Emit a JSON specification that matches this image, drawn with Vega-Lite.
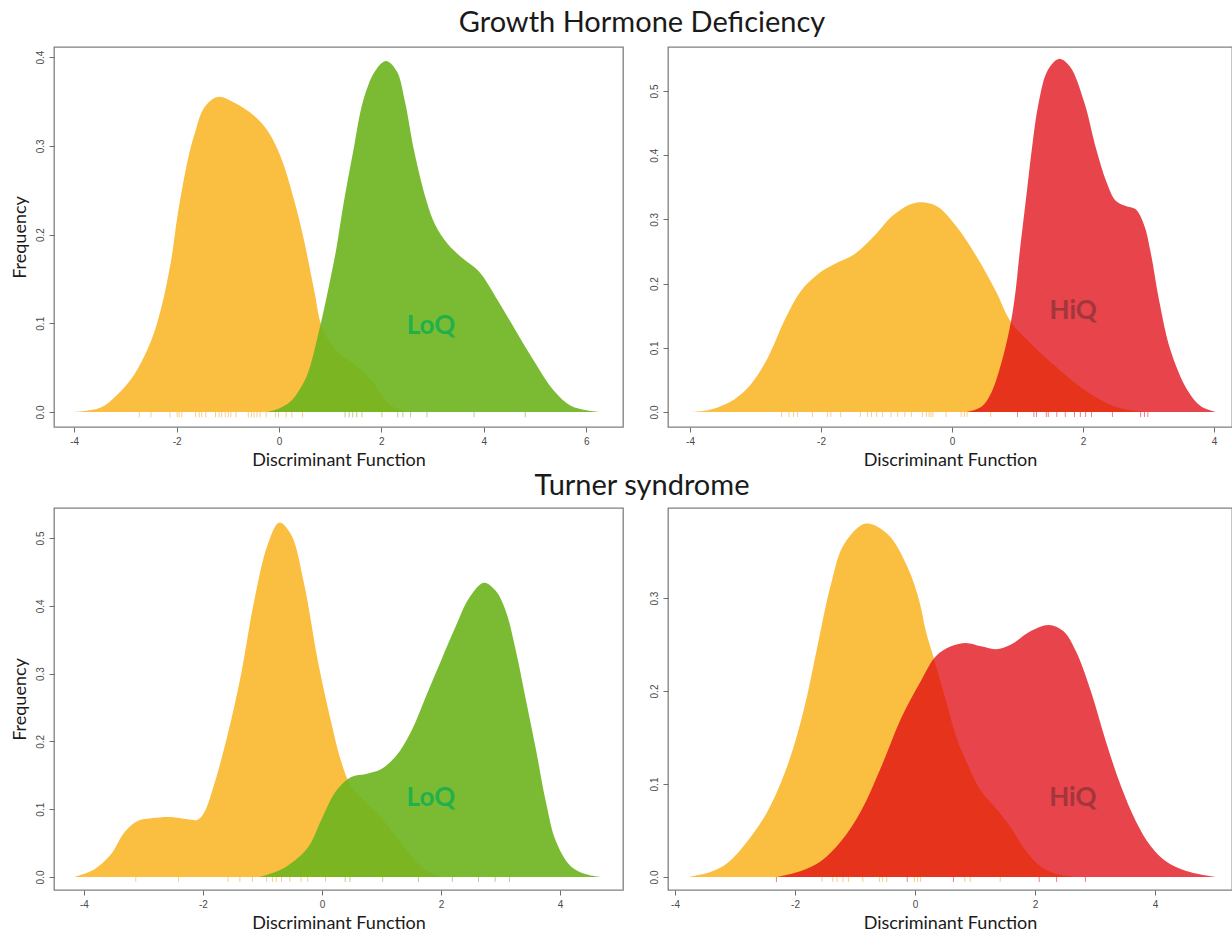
{
  "$schema": "https://vega.github.io/schema/vega-lite/v6.json",
  "background": "white",
  "padding": {"left": 10, "top": 8, "right": 0, "bottom": 0},
  "autosize": {"type": "pad"},
  "columns": 2,
  "bounds": "flush",
  "spacing": {"row": 81, "column": 45},
  "datasets": {
    "gh_loq": [
      {"group": "Reference", "x": -4.0, "density": 0},
      {"group": "Reference", "x": -3.48, "density": 0.005},
      {"group": "Reference", "x": -3.15, "density": 0.02},
      {"group": "Reference", "x": -2.83, "density": 0.042},
      {"group": "Reference", "x": -2.5, "density": 0.08},
      {"group": "Reference", "x": -2.3, "density": 0.1175},
      {"group": "Reference", "x": -2.11, "density": 0.17},
      {"group": "Reference", "x": -1.98, "density": 0.222},
      {"group": "Reference", "x": -1.78, "density": 0.2845},
      {"group": "Reference", "x": -1.65, "density": 0.313},
      {"group": "Reference", "x": -1.46, "density": 0.343},
      {"group": "Reference", "x": -1.2, "density": 0.355},
      {"group": "Reference", "x": -0.87, "density": 0.3485},
      {"group": "Reference", "x": -0.48, "density": 0.3335},
      {"group": "Reference", "x": -0.22, "density": 0.3166},
      {"group": "Reference", "x": 0.04, "density": 0.2865},
      {"group": "Reference", "x": 0.3, "density": 0.2377},
      {"group": "Reference", "x": 0.49, "density": 0.193},
      {"group": "Reference", "x": 0.69, "density": 0.136},
      {"group": "Reference", "x": 0.82, "density": 0.099},
      {"group": "Reference", "x": 1.0, "density": 0.078},
      {"group": "Reference", "x": 1.2, "density": 0.065},
      {"group": "Reference", "x": 1.4, "density": 0.057},
      {"group": "Reference", "x": 1.6, "density": 0.048},
      {"group": "Reference", "x": 1.8, "density": 0.036},
      {"group": "Reference", "x": 2.0, "density": 0.02},
      {"group": "Reference", "x": 2.2, "density": 0.007},
      {"group": "Reference", "x": 2.5, "density": 0.001},
      {"group": "Reference", "x": 2.8, "density": 0},
      {"group": "LoQ", "x": -0.25, "density": 0},
      {"group": "LoQ", "x": 0.0, "density": 0.004},
      {"group": "LoQ", "x": 0.23, "density": 0.012},
      {"group": "LoQ", "x": 0.4, "density": 0.025},
      {"group": "LoQ", "x": 0.56, "density": 0.043},
      {"group": "LoQ", "x": 0.78, "density": 0.091},
      {"group": "LoQ", "x": 0.95, "density": 0.135},
      {"group": "LoQ", "x": 1.11, "density": 0.181},
      {"group": "LoQ", "x": 1.27, "density": 0.238},
      {"group": "LoQ", "x": 1.45, "density": 0.294},
      {"group": "LoQ", "x": 1.64, "density": 0.35},
      {"group": "LoQ", "x": 1.875, "density": 0.384},
      {"group": "LoQ", "x": 2.09, "density": 0.3955},
      {"group": "LoQ", "x": 2.3, "density": 0.384},
      {"group": "LoQ", "x": 2.46, "density": 0.35},
      {"group": "LoQ", "x": 2.64, "density": 0.294},
      {"group": "LoQ", "x": 2.87, "density": 0.24},
      {"group": "LoQ", "x": 3.05, "density": 0.211},
      {"group": "LoQ", "x": 3.3, "density": 0.189},
      {"group": "LoQ", "x": 3.61, "density": 0.172},
      {"group": "LoQ", "x": 3.91, "density": 0.158},
      {"group": "LoQ", "x": 4.28, "density": 0.125},
      {"group": "LoQ", "x": 4.63, "density": 0.091},
      {"group": "LoQ", "x": 4.98, "density": 0.0575},
      {"group": "LoQ", "x": 5.37, "density": 0.024},
      {"group": "LoQ", "x": 5.7, "density": 0.007},
      {"group": "LoQ", "x": 6.0, "density": 0.002},
      {"group": "LoQ", "x": 6.29, "density": 0}
    ],
    "gh_loq_rug": [
      {"group": "Reference", "x": -2.73}, {"group": "Reference", "x": -2.5}, {"group": "Reference", "x": -2.13},
      {"group": "Reference", "x": -1.99}, {"group": "Reference", "x": -1.95}, {"group": "Reference", "x": -1.9},
      {"group": "Reference", "x": -1.63}, {"group": "Reference", "x": -1.56}, {"group": "Reference", "x": -1.51},
      {"group": "Reference", "x": -1.43}, {"group": "Reference", "x": -1.24}, {"group": "Reference", "x": -1.17},
      {"group": "Reference", "x": -1.12}, {"group": "Reference", "x": -1.05}, {"group": "Reference", "x": -0.99},
      {"group": "Reference", "x": -0.94}, {"group": "Reference", "x": -0.84}, {"group": "Reference", "x": -0.6},
      {"group": "Reference", "x": -0.54}, {"group": "Reference", "x": -0.49}, {"group": "Reference", "x": -0.43},
      {"group": "Reference", "x": -0.37}, {"group": "Reference", "x": -0.25}, {"group": "Reference", "x": -0.07},
      {"group": "Reference", "x": -0.01}, {"group": "Reference", "x": 0.14}, {"group": "Reference", "x": 0.25},
      {"group": "Reference", "x": 0.46},
      {"group": "LoQ", "x": 1.29}, {"group": "LoQ", "x": 1.37}, {"group": "LoQ", "x": 1.44}, {"group": "LoQ", "x": 1.52},
      {"group": "LoQ", "x": 1.62}, {"group": "LoQ", "x": 2.01}, {"group": "LoQ", "x": 2.32}, {"group": "LoQ", "x": 2.42},
      {"group": "LoQ", "x": 2.57}, {"group": "LoQ", "x": 2.89}, {"group": "LoQ", "x": 3.81}, {"group": "LoQ", "x": 4.81}
    ],
    "gh_hiq": [
      {"group": "Reference", "x": -4.0, "density": 0},
      {"group": "Reference", "x": -3.68, "density": 0.004},
      {"group": "Reference", "x": -3.32, "density": 0.02},
      {"group": "Reference", "x": -3.07, "density": 0.043},
      {"group": "Reference", "x": -2.81, "density": 0.085},
      {"group": "Reference", "x": -2.56, "density": 0.142},
      {"group": "Reference", "x": -2.31, "density": 0.188},
      {"group": "Reference", "x": -2.05, "density": 0.2145},
      {"group": "Reference", "x": -1.8, "density": 0.23},
      {"group": "Reference", "x": -1.49, "density": 0.2455},
      {"group": "Reference", "x": -1.19, "density": 0.274},
      {"group": "Reference", "x": -0.88, "density": 0.308},
      {"group": "Reference", "x": -0.55, "density": 0.326},
      {"group": "Reference", "x": -0.24, "density": 0.321},
      {"group": "Reference", "x": 0.06, "density": 0.29},
      {"group": "Reference", "x": 0.37, "density": 0.243},
      {"group": "Reference", "x": 0.67, "density": 0.188},
      {"group": "Reference", "x": 0.9, "density": 0.14},
      {"group": "Reference", "x": 1.21, "density": 0.106},
      {"group": "Reference", "x": 1.56, "density": 0.073},
      {"group": "Reference", "x": 1.97, "density": 0.038},
      {"group": "Reference", "x": 2.38, "density": 0.013},
      {"group": "Reference", "x": 2.7, "density": 0.003},
      {"group": "Reference", "x": 3.0, "density": 0},
      {"group": "HiQ", "x": 0.23, "density": 0},
      {"group": "HiQ", "x": 0.45, "density": 0.008},
      {"group": "HiQ", "x": 0.6, "density": 0.03},
      {"group": "HiQ", "x": 0.75, "density": 0.075},
      {"group": "HiQ", "x": 0.88, "density": 0.13},
      {"group": "HiQ", "x": 0.96, "density": 0.18},
      {"group": "HiQ", "x": 1.04, "density": 0.255},
      {"group": "HiQ", "x": 1.13, "density": 0.332},
      {"group": "HiQ", "x": 1.22, "density": 0.41},
      {"group": "HiQ", "x": 1.32, "density": 0.48},
      {"group": "HiQ", "x": 1.46, "density": 0.532},
      {"group": "HiQ", "x": 1.63, "density": 0.55},
      {"group": "HiQ", "x": 1.8, "density": 0.538},
      {"group": "HiQ", "x": 2.02, "density": 0.482},
      {"group": "HiQ", "x": 2.2, "density": 0.41},
      {"group": "HiQ", "x": 2.36, "density": 0.358},
      {"group": "HiQ", "x": 2.5, "density": 0.329},
      {"group": "HiQ", "x": 2.65, "density": 0.321},
      {"group": "HiQ", "x": 2.8, "density": 0.316},
      {"group": "HiQ", "x": 2.93, "density": 0.292},
      {"group": "HiQ", "x": 3.04, "density": 0.245},
      {"group": "HiQ", "x": 3.16, "density": 0.175},
      {"group": "HiQ", "x": 3.34, "density": 0.095},
      {"group": "HiQ", "x": 3.6, "density": 0.033},
      {"group": "HiQ", "x": 3.8, "density": 0.009},
      {"group": "HiQ", "x": 4.03, "density": 0}
    ],
    "gh_hiq_rug": [
      {"group": "Reference", "x": -2.6}, {"group": "Reference", "x": -2.49}, {"group": "Reference", "x": -2.42},
      {"group": "Reference", "x": -2.36}, {"group": "Reference", "x": -2.13}, {"group": "Reference", "x": -1.9},
      {"group": "Reference", "x": -1.85}, {"group": "Reference", "x": -1.7}, {"group": "Reference", "x": -1.4},
      {"group": "Reference", "x": -1.29}, {"group": "Reference", "x": -1.23}, {"group": "Reference", "x": -1.15},
      {"group": "Reference", "x": -1.06}, {"group": "Reference", "x": -0.93}, {"group": "Reference", "x": -0.83},
      {"group": "Reference", "x": -0.72}, {"group": "Reference", "x": -0.62}, {"group": "Reference", "x": -0.45},
      {"group": "Reference", "x": -0.39}, {"group": "Reference", "x": -0.35}, {"group": "Reference", "x": -0.32},
      {"group": "Reference", "x": -0.29}, {"group": "Reference", "x": -0.09}, {"group": "Reference", "x": 0.14},
      {"group": "Reference", "x": 0.19}, {"group": "Reference", "x": 0.23}, {"group": "Reference", "x": 0.59},
      {"group": "HiQ", "x": 1.0}, {"group": "HiQ", "x": 1.25}, {"group": "HiQ", "x": 1.29}, {"group": "HiQ", "x": 1.44},
      {"group": "HiQ", "x": 1.47}, {"group": "HiQ", "x": 1.6}, {"group": "HiQ", "x": 1.73}, {"group": "HiQ", "x": 1.87},
      {"group": "HiQ", "x": 1.96}, {"group": "HiQ", "x": 2.04}, {"group": "HiQ", "x": 2.13}, {"group": "HiQ", "x": 2.45},
      {"group": "HiQ", "x": 2.88}, {"group": "HiQ", "x": 2.94}, {"group": "HiQ", "x": 2.99}
    ],
    "ts_loq": [
      {"group": "Reference", "x": -4.16, "density": 0},
      {"group": "Reference", "x": -3.83, "density": 0.011},
      {"group": "Reference", "x": -3.55, "density": 0.033},
      {"group": "Reference", "x": -3.32, "density": 0.066},
      {"group": "Reference", "x": -3.1, "density": 0.0826},
      {"group": "Reference", "x": -2.87, "density": 0.0866},
      {"group": "Reference", "x": -2.54, "density": 0.0885},
      {"group": "Reference", "x": -2.26, "density": 0.085},
      {"group": "Reference", "x": -2.09, "density": 0.0845},
      {"group": "Reference", "x": -1.98, "density": 0.095},
      {"group": "Reference", "x": -1.81, "density": 0.137},
      {"group": "Reference", "x": -1.585, "density": 0.21},
      {"group": "Reference", "x": -1.36, "density": 0.299},
      {"group": "Reference", "x": -1.14, "density": 0.407},
      {"group": "Reference", "x": -0.91, "density": 0.491},
      {"group": "Reference", "x": -0.72, "density": 0.5226},
      {"group": "Reference", "x": -0.52, "density": 0.505},
      {"group": "Reference", "x": -0.3, "density": 0.432},
      {"group": "Reference", "x": -0.07, "density": 0.319},
      {"group": "Reference", "x": 0.15, "density": 0.23},
      {"group": "Reference", "x": 0.32, "density": 0.171},
      {"group": "Reference", "x": 0.49, "density": 0.134},
      {"group": "Reference", "x": 0.74, "density": 0.11},
      {"group": "Reference", "x": 0.99, "density": 0.088},
      {"group": "Reference", "x": 1.24, "density": 0.06},
      {"group": "Reference", "x": 1.5, "density": 0.031},
      {"group": "Reference", "x": 1.75, "density": 0.01},
      {"group": "Reference", "x": 2.0, "density": 0},
      {"group": "LoQ", "x": -1.05, "density": 0},
      {"group": "LoQ", "x": -0.63, "density": 0.0137},
      {"group": "LoQ", "x": -0.24, "density": 0.043},
      {"group": "LoQ", "x": -0.02, "density": 0.0826},
      {"group": "LoQ", "x": 0.24, "density": 0.127},
      {"group": "LoQ", "x": 0.49, "density": 0.1475},
      {"group": "LoQ", "x": 0.74, "density": 0.152},
      {"group": "LoQ", "x": 0.99, "density": 0.159},
      {"group": "LoQ", "x": 1.24, "density": 0.178},
      {"group": "LoQ", "x": 1.5, "density": 0.215},
      {"group": "LoQ", "x": 1.75, "density": 0.267},
      {"group": "LoQ", "x": 2.0, "density": 0.319},
      {"group": "LoQ", "x": 2.25, "density": 0.37},
      {"group": "LoQ", "x": 2.47, "density": 0.411},
      {"group": "LoQ", "x": 2.72, "density": 0.434},
      {"group": "LoQ", "x": 2.92, "density": 0.422},
      {"group": "LoQ", "x": 3.09, "density": 0.392},
      {"group": "LoQ", "x": 3.26, "density": 0.333},
      {"group": "LoQ", "x": 3.43, "density": 0.26},
      {"group": "LoQ", "x": 3.6, "density": 0.186},
      {"group": "LoQ", "x": 3.76, "density": 0.112},
      {"group": "LoQ", "x": 3.93, "density": 0.053},
      {"group": "LoQ", "x": 4.18, "density": 0.016},
      {"group": "LoQ", "x": 4.44, "density": 0.004},
      {"group": "LoQ", "x": 4.69, "density": 0}
    ],
    "ts_loq_rug": [
      {"group": "Reference", "x": -3.13}, {"group": "Reference", "x": -2.41}, {"group": "Reference", "x": -1.58},
      {"group": "Reference", "x": -1.38}, {"group": "Reference", "x": -1.17}, {"group": "Reference", "x": -0.93},
      {"group": "Reference", "x": -0.83}, {"group": "Reference", "x": -0.77}, {"group": "Reference", "x": -0.68},
      {"group": "Reference", "x": -0.54}, {"group": "Reference", "x": -0.35}, {"group": "Reference", "x": -0.24},
      {"group": "Reference", "x": 0.06},
      {"group": "LoQ", "x": 0.39}, {"group": "LoQ", "x": 0.47}, {"group": "LoQ", "x": 1.02}, {"group": "LoQ", "x": 1.62},
      {"group": "LoQ", "x": 2.19}, {"group": "LoQ", "x": 2.63}, {"group": "LoQ", "x": 2.91}, {"group": "LoQ", "x": 3.15}
    ],
    "ts_hiq": [
      {"group": "Reference", "x": -3.78, "density": 0},
      {"group": "Reference", "x": -3.4, "density": 0.0057},
      {"group": "Reference", "x": -3.12, "density": 0.0154},
      {"group": "Reference", "x": -2.79, "density": 0.0387},
      {"group": "Reference", "x": -2.455, "density": 0.071},
      {"group": "Reference", "x": -2.12, "density": 0.121},
      {"group": "Reference", "x": -1.845, "density": 0.182},
      {"group": "Reference", "x": -1.62, "density": 0.25},
      {"group": "Reference", "x": -1.4, "density": 0.315},
      {"group": "Reference", "x": -1.18, "density": 0.358},
      {"group": "Reference", "x": -0.82, "density": 0.38},
      {"group": "Reference", "x": -0.455, "density": 0.3685},
      {"group": "Reference", "x": -0.12, "density": 0.3326},
      {"group": "Reference", "x": 0.07, "density": 0.297},
      {"group": "Reference", "x": 0.18, "density": 0.2645},
      {"group": "Reference", "x": 0.3, "density": 0.238},
      {"group": "Reference", "x": 0.52, "density": 0.189},
      {"group": "Reference", "x": 0.68, "density": 0.152},
      {"group": "Reference", "x": 0.85, "density": 0.125},
      {"group": "Reference", "x": 1.1, "density": 0.0925},
      {"group": "Reference", "x": 1.35, "density": 0.074},
      {"group": "Reference", "x": 1.6, "density": 0.053},
      {"group": "Reference", "x": 1.85, "density": 0.028},
      {"group": "Reference", "x": 2.1, "density": 0.011},
      {"group": "Reference", "x": 2.43, "density": 0.002},
      {"group": "Reference", "x": 2.7, "density": 0},
      {"group": "HiQ", "x": -2.305, "density": 0},
      {"group": "HiQ", "x": -1.9, "density": 0.0065},
      {"group": "HiQ", "x": -1.57, "density": 0.017},
      {"group": "HiQ", "x": -1.23, "density": 0.0387},
      {"group": "HiQ", "x": -0.9, "density": 0.071},
      {"group": "HiQ", "x": -0.57, "density": 0.1175},
      {"group": "HiQ", "x": -0.23, "density": 0.171},
      {"group": "HiQ", "x": 0.1, "density": 0.211},
      {"group": "HiQ", "x": 0.35, "density": 0.2376},
      {"group": "HiQ", "x": 0.6, "density": 0.248},
      {"group": "HiQ", "x": 0.85, "density": 0.2516},
      {"group": "HiQ", "x": 1.1, "density": 0.248},
      {"group": "HiQ", "x": 1.35, "density": 0.245},
      {"group": "HiQ", "x": 1.6, "density": 0.25},
      {"group": "HiQ", "x": 1.93, "density": 0.2645},
      {"group": "HiQ", "x": 2.23, "density": 0.271},
      {"group": "HiQ", "x": 2.47, "density": 0.2645},
      {"group": "HiQ", "x": 2.68, "density": 0.243},
      {"group": "HiQ", "x": 2.93, "density": 0.2},
      {"group": "HiQ", "x": 3.18, "density": 0.146},
      {"group": "HiQ", "x": 3.43, "density": 0.098},
      {"group": "HiQ", "x": 3.68, "density": 0.06},
      {"group": "HiQ", "x": 3.93, "density": 0.033},
      {"group": "HiQ", "x": 4.18, "density": 0.017},
      {"group": "HiQ", "x": 4.52, "density": 0.0065},
      {"group": "HiQ", "x": 5.02, "density": 0}
    ],
    "ts_hiq_rug": [
      {"group": "Reference", "x": -1.55}, {"group": "Reference", "x": -1.37}, {"group": "Reference", "x": -1.3},
      {"group": "Reference", "x": -1.2}, {"group": "Reference", "x": -1.11}, {"group": "Reference", "x": -0.87},
      {"group": "Reference", "x": -0.59}, {"group": "Reference", "x": -0.54}, {"group": "Reference", "x": -0.47},
      {"group": "Reference", "x": -0.01}, {"group": "Reference", "x": 0.04}, {"group": "Reference", "x": 0.09},
      {"group": "Reference", "x": 0.83}, {"group": "Reference", "x": 0.92}, {"group": "Reference", "x": 1.42},
      {"group": "HiQ", "x": -2.31}, {"group": "HiQ", "x": -0.13}, {"group": "HiQ", "x": 0.64},
      {"group": "HiQ", "x": 2.07}, {"group": "HiQ", "x": 2.36}, {"group": "HiQ", "x": 2.84}
    ],
    "labels": [
      {"panel": "gh_loq", "label": "LoQ", "x": 2.97, "y": 0.097},
      {"panel": "gh_hiq", "label": "HiQ", "x": 1.85, "y": 0.157},
      {"panel": "ts_loq", "label": "LoQ", "x": 1.83, "y": 0.1165},
      {"panel": "ts_hiq", "label": "HiQ", "x": 2.63, "y": 0.085}
    ]
  },
  "concat": [
    {
      "width": 569,
      "height": 380,
      "title": {"text": "Growth Hormone Deficiency", "anchor": "end", "align": "center", "dx": 19, "frame": "group", "fontSize": 29, "font": "Lato", "fontWeight": "normal", "color": "#1a1a1a", "offset": 9},
      "layer": [
        {
          "data": {"name": "gh_loq"},
          "transform": [{"filter": "datum.group === 'Reference'"}],
          "mark": {"type": "area", "color": "#FABE41", "interpolate": "catmull-rom"},
          "encoding": {
            "x": {"field": "x", "type": "quantitative", "scale": {"domain": [-4.395, 6.719], "nice": false, "zero": false},
                  "axis": {"values": [-4, -2, 0, 2, 4, 6], "labelExpr": "datum.value + ''", "title": "Discriminant Function"}},
            "y": {"field": "density", "type": "quantitative", "stack": null, "scale": {"domain": [-0.0169, 0.4113], "nice": false, "zero": false},
                  "axis": {"values": [0, 0.1, 0.2, 0.3, 0.4], "format": ".1f", "title": "Frequency"}}
          }
        },
        {
          "data": {"name": "gh_loq"},
          "transform": [{"filter": "datum.group === 'LoQ'"}],
          "mark": {"type": "area", "color": "#6DB41E", "opacity": 0.9, "interpolate": "catmull-rom"},
          "encoding": {
            "x": {"field": "x", "type": "quantitative"},
            "y": {"field": "density", "type": "quantitative", "stack": null}
          }
        },
        {
          "data": {"name": "gh_loq_rug"},
          "mark": {"type": "rule", "strokeWidth": 1, "opacity": 0.55},
          "encoding": {
            "x": {"field": "x", "type": "quantitative"},
            "y": {"datum": 0},
            "y2": {"datum": -0.006},
            "color": {"field": "group", "type": "nominal", "legend": null, "scale": {"domain": ["Reference", "LoQ", "HiQ"], "range": ["#F5A623", "#6DB320", "#E31A1C"]}}
          }
        },
        {
          "data": {"name": "labels"},
          "transform": [{"filter": "datum.panel === 'gh_loq'"}],
          "mark": {"type": "text", "font": "Lato", "fontWeight": "bold", "fontSize": 26, "color": "#22B04B", "align": "center", "baseline": "middle"},
          "encoding": {
            "x": {"field": "x", "type": "quantitative"},
            "y": {"field": "y", "type": "quantitative"},
            "text": {"field": "label"}
          }
        }
      ]
    },
    {
      "width": 564,
      "height": 380,
      "layer": [
        {
          "data": {"name": "gh_hiq"},
          "transform": [{"filter": "datum.group === 'Reference'"}],
          "mark": {"type": "area", "color": "#FABE41", "interpolate": "catmull-rom"},
          "encoding": {
            "x": {"field": "x", "type": "quantitative", "scale": {"domain": [-4.336, 4.275], "nice": false, "zero": false},
                  "axis": {"values": [-4, -2, 0, 2, 4], "labelExpr": "datum.value + ''", "title": "Discriminant Function"}},
            "y": {"field": "density", "type": "quantitative", "stack": null, "scale": {"domain": [-0.0234, 0.5685], "nice": false, "zero": false},
                  "axis": {"values": [0, 0.1, 0.2, 0.3, 0.4, 0.5], "format": ".1f", "title": null}}
          }
        },
        {
          "data": {"name": "gh_hiq"},
          "transform": [{"filter": "datum.group === 'HiQ'"}],
          "mark": {"type": "area", "color": "#DF0610", "opacity": 0.75, "interpolate": "catmull-rom"},
          "encoding": {
            "x": {"field": "x", "type": "quantitative"},
            "y": {"field": "density", "type": "quantitative", "stack": null}
          }
        },
        {
          "data": {"name": "gh_hiq_rug"},
          "mark": {"type": "rule", "strokeWidth": 1, "opacity": 0.55},
          "encoding": {
            "x": {"field": "x", "type": "quantitative"},
            "y": {"datum": 0},
            "y2": {"datum": -0.0078},
            "color": {"field": "group", "type": "nominal", "legend": null, "scale": {"domain": ["Reference", "LoQ", "HiQ"], "range": ["#F5A623", "#6DB320", "#E31A1C"]}}
          }
        },
        {
          "data": {"name": "labels"},
          "transform": [{"filter": "datum.panel === 'gh_hiq'"}],
          "mark": {"type": "text", "font": "Lato", "fontWeight": "bold", "fontSize": 26, "color": "#A3363B", "align": "center", "baseline": "middle"},
          "encoding": {
            "x": {"field": "x", "type": "quantitative"},
            "y": {"field": "y", "type": "quantitative"},
            "text": {"field": "label"}
          }
        }
      ]
    },
    {
      "width": 569,
      "height": 382,
      "title": {"text": "Turner syndrome", "anchor": "end", "align": "center", "dx": 19, "frame": "group", "fontSize": 29, "font": "Lato", "fontWeight": "normal", "color": "#1a1a1a", "offset": 7},
      "layer": [
        {
          "data": {"name": "ts_loq"},
          "transform": [{"filter": "datum.group === 'Reference'"}],
          "mark": {"type": "area", "color": "#FABE41", "interpolate": "catmull-rom"},
          "encoding": {
            "x": {"field": "x", "type": "quantitative", "scale": {"domain": [-4.504, 5.059], "nice": false, "zero": false},
                  "axis": {"values": [-4, -2, 0, 2, 4], "labelExpr": "datum.value + ''", "title": "Discriminant Function"}},
            "y": {"field": "density", "type": "quantitative", "stack": null, "scale": {"domain": [-0.0192, 0.5442], "nice": false, "zero": false},
                  "axis": {"values": [0, 0.1, 0.2, 0.3, 0.4, 0.5], "format": ".1f", "title": "Frequency"}}
          }
        },
        {
          "data": {"name": "ts_loq"},
          "transform": [{"filter": "datum.group === 'LoQ'"}],
          "mark": {"type": "area", "color": "#6DB41E", "opacity": 0.9, "interpolate": "catmull-rom"},
          "encoding": {
            "x": {"field": "x", "type": "quantitative"},
            "y": {"field": "density", "type": "quantitative", "stack": null}
          }
        },
        {
          "data": {"name": "ts_loq_rug"},
          "mark": {"type": "rule", "strokeWidth": 1, "opacity": 0.55},
          "encoding": {
            "x": {"field": "x", "type": "quantitative"},
            "y": {"datum": 0},
            "y2": {"datum": -0.0074},
            "color": {"field": "group", "type": "nominal", "legend": null, "scale": {"domain": ["Reference", "LoQ", "HiQ"], "range": ["#F5A623", "#6DB320", "#E31A1C"]}}
          }
        },
        {
          "data": {"name": "labels"},
          "transform": [{"filter": "datum.panel === 'ts_loq'"}],
          "mark": {"type": "text", "font": "Lato", "fontWeight": "bold", "fontSize": 26, "color": "#22B04B", "align": "center", "baseline": "middle"},
          "encoding": {
            "x": {"field": "x", "type": "quantitative"},
            "y": {"field": "y", "type": "quantitative"},
            "text": {"field": "label"}
          }
        }
      ]
    },
    {
      "width": 564,
      "height": 382,
      "layer": [
        {
          "data": {"name": "ts_hiq"},
          "transform": [{"filter": "datum.group === 'Reference'"}],
          "mark": {"type": "area", "color": "#FABE41", "interpolate": "catmull-rom"},
          "encoding": {
            "x": {"field": "x", "type": "quantitative", "scale": {"domain": [-4.117, 5.283], "nice": false, "zero": false},
                  "axis": {"values": [-4, -2, 0, 2, 4], "labelExpr": "datum.value + ''", "title": "Discriminant Function"}},
            "y": {"field": "density", "type": "quantitative", "stack": null, "scale": {"domain": [-0.014, 0.3968], "nice": false, "zero": false},
                  "axis": {"values": [0, 0.1, 0.2, 0.3], "format": ".1f", "title": null}}
          }
        },
        {
          "data": {"name": "ts_hiq"},
          "transform": [{"filter": "datum.group === 'HiQ'"}],
          "mark": {"type": "area", "color": "#DF0610", "opacity": 0.75, "interpolate": "catmull-rom"},
          "encoding": {
            "x": {"field": "x", "type": "quantitative"},
            "y": {"field": "density", "type": "quantitative", "stack": null}
          }
        },
        {
          "data": {"name": "ts_hiq_rug"},
          "mark": {"type": "rule", "strokeWidth": 1, "opacity": 0.55},
          "encoding": {
            "x": {"field": "x", "type": "quantitative"},
            "y": {"datum": 0},
            "y2": {"datum": -0.0054},
            "color": {"field": "group", "type": "nominal", "legend": null, "scale": {"domain": ["Reference", "LoQ", "HiQ"], "range": ["#F5A623", "#6DB320", "#E31A1C"]}}
          }
        },
        {
          "data": {"name": "labels"},
          "transform": [{"filter": "datum.panel === 'ts_hiq'"}],
          "mark": {"type": "text", "font": "Lato", "fontWeight": "bold", "fontSize": 26, "color": "#A3363B", "align": "center", "baseline": "middle"},
          "encoding": {
            "x": {"field": "x", "type": "quantitative"},
            "y": {"field": "y", "type": "quantitative"},
            "text": {"field": "label"}
          }
        }
      ]
    }
  ],
  "config": {
    "view": {"stroke": "#808080", "strokeWidth": 1.3},
    "font": "Lato",
    "axis": {
      "domain": false, "grid": false, "tickColor": "#6e6e6e", "tickSize": 5, "tickWidth": 1,
      "labelFont": "Liberation Sans", "labelFontSize": 10, "labelColor": "#4a4a4a", "labelPadding": 4,
      "labelFlush": false, "labelOverlap": false,
      "titleFont": "Lato", "titleFontSize": 18, "titleFontWeight": "normal", "titleColor": "#1a1a1a"
    },
    "axisY": {"labelAngle": 270, "labelAlign": "center", "labelBaseline": "bottom", "titlePadding": 6},
    "axisX": {"titlePadding": 5}
  }
}
